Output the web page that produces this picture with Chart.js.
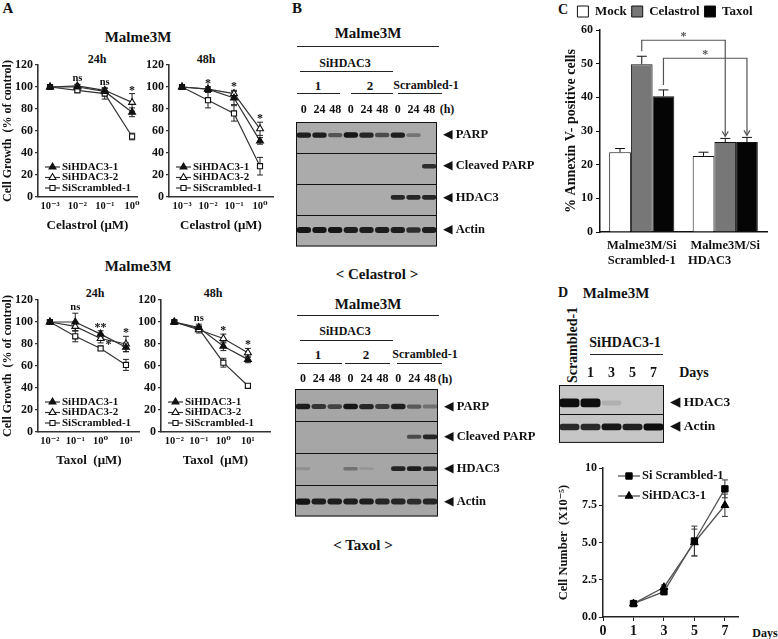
<!DOCTYPE html>
<html lang="en">
<head>
<meta charset="utf-8">
<title>Malme3M / HDAC3</title>
<script src="https://cdn.jsdelivr.net/npm/chart.js@4.4.1/dist/chart.umd.min.js"></script>
<style>
  body { margin: 0; background: #fff; }
  #fig { position: relative; width: 778px; height: 639px; overflow: hidden;
         font-family: "Liberation Serif", serif; font-weight: bold; color: #111; }
  canvas { position: absolute; }
  .t { position: absolute; white-space: nowrap; line-height: 1; transform: translate(-50%, -50%); }
  .l { position: absolute; height: 0; border-top: 1.3px solid #222; }
</style>
</head>
<body>
<div id="fig">
  <!-- A -->
  <div class="t" style="left:8px;top:8px;font-size:15px">A</div>
  <div class="t" style="left:138px;top:37px;font-size:15px">Malme3M</div>
  <div class="t" style="left:97px;top:59px;font-size:12px">24h</div>
  <div class="t" style="left:206px;top:59px;font-size:12px">48h</div>
  <div class="t" style="left:138px;top:266px;font-size:15px">Malme3M</div>
  <div class="t" style="left:95px;top:293px;font-size:12px">24h</div>
  <div class="t" style="left:213px;top:293px;font-size:12px">48h</div>

  <!-- B -->
  <div class="t" style="left:297px;top:8px;font-size:15px">B</div>
  <div class="t" style="left:368px;top:33px;font-size:15px">Malme3M</div>
  <div class="l" style="left:297px;top:46px;width:142px"></div>
  <div class="t" style="left:345px;top:63px;font-size:12px">SiHDAC3</div>
  <div class="l" style="left:300px;top:71px;width:93px"></div>
  <div class="t" style="left:318px;top:85px;font-size:13px">1</div>
  <div class="t" style="left:370px;top:85px;font-size:13px">2</div>
  <div class="t" style="left:426px;top:85px;font-size:12px">Scrambled-1</div>
  <div class="l" style="left:297px;top:93px;width:43px"></div>
  <div class="l" style="left:351px;top:93px;width:42px"></div>
  <div class="l" style="left:398px;top:93px;width:44px"></div>
  <div class="t" style="left:447px;top:109px;font-size:12px">(h)</div>
  <div class="t" style="left:377px;top:274px;font-size:15px">&lt; Celastrol &gt;</div>

  <div class="t" style="left:368px;top:304px;font-size:15px">Malme3M</div>
  <div class="l" style="left:297px;top:315px;width:142px"></div>
  <div class="t" style="left:345px;top:331px;font-size:12px">SiHDAC3</div>
  <div class="l" style="left:300px;top:340px;width:93px"></div>
  <div class="t" style="left:318px;top:354px;font-size:13px">1</div>
  <div class="t" style="left:366px;top:354px;font-size:13px">2</div>
  <div class="t" style="left:425px;top:354px;font-size:12px">Scrambled-1</div>
  <div class="l" style="left:297px;top:363px;width:45px"></div>
  <div class="l" style="left:345px;top:363px;width:45px"></div>
  <div class="l" style="left:397px;top:363px;width:45px"></div>
  <div class="t" style="left:445px;top:379px;font-size:12px">(h)</div>
  <div class="t" style="left:363px;top:545px;font-size:15px">&lt; Taxol &gt;</div>

  <!-- C / D -->
  <div class="t" style="left:563px;top:10px;font-size:14px">C</div>
  <div class="t" style="left:563px;top:293px;font-size:14px">D</div>
  <div class="t" style="left:616px;top:293px;font-size:15px">Malme3M</div>
  <div class="t" style="left:573px;top:345px;font-size:14px;transform:translate(-50%,-50%) rotate(-90deg)">Scrambled-1</div>
  <div class="t" style="left:625px;top:343px;font-size:14px">SiHDAC3-1</div>
  <div class="l" style="left:590px;top:354px;width:73px"></div>
  <div class="t" style="left:694px;top:373px;font-size:14px">Days</div>
  <div class="t" style="left:765px;top:633px;font-size:12px">Days</div>

  <canvas id="a1" width="145" height="187" style="left:0;top:50px"></canvas>
  <canvas id="a2" width="143" height="187" style="left:140px;top:50px"></canvas>
  <canvas id="a3" width="145" height="187" style="left:0;top:285px"></canvas>
  <canvas id="a4" width="150" height="187" style="left:132px;top:285px"></canvas>
  <canvas id="bCel" width="250" height="160" style="left:290px;top:100px"></canvas>
  <canvas id="bTax" width="251" height="163" style="left:289px;top:367px"></canvas>
  <canvas id="cBar" width="215" height="265" style="left:563px;top:0"></canvas>
  <canvas id="dBlot" width="225" height="97" style="left:553px;top:360px"></canvas>
  <canvas id="dLine" width="223" height="184" style="left:555px;top:455px"></canvas>
</div>

<script>
// --- DONNÉES A : croissance cellulaire (% du contrôle) ---
const concCel = [-3, -2, -1, 0];   // log10 µM
const concTax = [-2, -1, 0, 1];
const seriesNames = ['SiHDAC3-1', 'SiHDAC3-2', 'SiScrambled-1'];

const cel24 = [[100, 100, 96, 77], [100, 101, 97, 86], [100, 97, 94, 55]];
const cel24Err = [[1.5, 2, 3, 4], [1, 1.5, 2, 8], [1.5, 2, 5, 3]];
const cel24Sig = ['', 'ns', 'ns', '*'];

const cel48 = [[100, 98, 90, 51], [100, 98, 94, 62], [100, 88, 76, 28]];
const cel48Err = [[1, 2, 6, 3], [1, 2, 3, 6], [1, 7, 7, 8]];
const cel48Sig = ['', '*', '*', '*'];

const tax24 = [[100, 100, 89, 77], [100, 96, 85, 80], [100, 87, 76, 61]];
const tax24Err = [[1, 8, 3, 4], [1, 4, 4, 7], [1, 5, 2, 5]];
const tax24Sig = ['', 'ns', '**', '*'];
const tax24Sig2 = ['', '', '*', ''];

const tax48 = [[100, 95, 78, 66], [100, 93, 85, 72], [100, 94, 63, 42]];
const tax48Err = [[1, 3, 4, 3], [1, 3, 4, 4], [1, 2, 4, 1.5]];
const tax48Sig = ['', 'ns', '*', '*'];

// --- DONNÉES B : western blots (intensité 0..1) ---
const lanesB = ['0', '24', '48', '0', '24', '48', '0', '24', '48'];
const rowsB = ['PARP', 'Cleaved PARP', 'HDAC3', 'Actin'];
const blotCel = [
  [0.9, 0.9, 0.55, 0.95, 0.85, 0.6, 0.9, 0.35, 0],
  [0, 0, 0, 0, 0, 0, 0, 0, 0.8],
  [0, 0, 0, 0, 0, 0, 0.85, 0.85, 0.85],
  [0.95, 0.95, 0.95, 0.9, 0.9, 0.9, 0.9, 0.8, 0.9]
];
const blotTax = [
  [0.9, 0.75, 0.65, 0.95, 0.85, 0.7, 0.9, 0.5, 0.35],
  [0, 0, 0, 0, 0, 0, 0, 0.6, 0.85],
  [0.15, 0, 0, 0.35, 0.1, 0, 0.85, 0.9, 0.8],
  [0.95, 0.9, 0.9, 0.9, 0.9, 0.85, 0.85, 0.8, 0.85]
];

// --- DONNÉES C : Annexin V ---
const cGroups = [['Malme3M/Si', 'Scrambled-1'], ['Malme3M/Si', 'HDAC3          ']];
const cMock = [23.7, 22.6], cMockErr = [1.1, 1.1];
const cCel = [49.8, 26.7], cCelErr = [2.4, 1.1];
const cTax = [40.3, 26.7], cTaxErr = [1.9, 1.4];

// --- DONNÉES D ---
const dLanes = ['Scrambled-1', '1', '3', '5', '7'];
const rowsD = ['HDAC3', 'Actin'];
const blotD = [[1, 1, 0.12, 0, 0], [0.85, 0.85, 0.95, 0.9, 1]];
const dDayTicks = ['0', '1', '3', '5', '7'];
const dDays = ['1', '3', '5', '7'];
const dScr = [0.9, 1.7, 5.1, 8.6], dScrErr = [0.15, 0.2, 1.0, 0.6];
const dHdac = [0.9, 2.0, 5.0, 7.5], dHdacErr = [0.1, 0.15, 0.9, 0.75];

// --- STYLE ---
const SERIF = "'Liberation Serif', 'DejaVu Serif', serif";
Chart.defaults.font.family = SERIF;
Chart.defaults.font.weight = 'bold';
Chart.defaults.color = '#111';
const SUP = { '-': '⁻', '0': '⁰', '1': '¹', '2': '²', '3': '³' };
const sup = v => String(v).split('').map(c => SUP[c]).join('');

// --- PLUGINS ---
const errPlugin = {
  id: 'errbars',
  beforeDatasetsDraw(chart, args, o) {
    const { ctx } = chart;
    const cap = o.cap || 3;
    ctx.save();
    ctx.strokeStyle = o.color || '#222';
    ctx.lineWidth = o.width || 1;
    chart.data.datasets.forEach((ds, i) => {
      if (!ds.errors) return;
      const meta = chart.getDatasetMeta(i);
      const ys = chart.scales[meta.yAxisID];
      meta.data.forEach((el, j) => {
        const e = ds.errors[j];
        if (!e) return;
        const d = ds.data[j];
        const v = typeof d === 'object' ? d.y : d;
        const y1 = ys.getPixelForValue(v + e);
        const y2 = o.upOnly ? el.y : ys.getPixelForValue(v - e);
        ctx.beginPath();
        ctx.moveTo(el.x, y1); ctx.lineTo(el.x, y2);
        ctx.moveTo(el.x - cap, y1); ctx.lineTo(el.x + cap, y1);
        if (!o.upOnly) { ctx.moveTo(el.x - cap, y2); ctx.lineTo(el.x + cap, y2); }
        ctx.stroke();
      });
    });
    ctx.restore();
  }
};

const sigPlugin = {
  id: 'sig',
  afterDatasetsDraw(chart, args, o) {
    if (!o.labels) return;
    const { ctx } = chart;
    const ys = chart.scales.y;
    ctx.save();
    ctx.fillStyle = '#111';
    o.labels.forEach((lab, j) => {
      if (!lab) return;
      let top = Infinity, x = 0;
      chart.data.datasets.forEach((ds, i) => {
        const v = ds.data[j].y + (ds.errors ? ds.errors[j] : 0);
        top = Math.min(top, ys.getPixelForValue(v));
        x = chart.getDatasetMeta(i).data[j].x;
      });
      ctx.textAlign = 'center';
      ctx.textBaseline = 'bottom';
      if (lab === 'ns') { ctx.font = 'bold 10.5px ' + SERIF; ctx.fillText(lab, x, top - 1); }
      else { ctx.font = 'bold 12px ' + SERIF; ctx.fillText(lab, x, top + 3); }
    });
    if (o.extra) {
      const meta = chart.getDatasetMeta(o.extraSet);
      o.extra.forEach((lab, j) => {
        if (!lab) return;
        const el = meta.data[j];
        ctx.font = 'bold 12px ' + SERIF;
        ctx.textAlign = 'left';
        ctx.textBaseline = 'middle';
        ctx.fillText(lab, el.x + 5, el.y + 6);
      });
    }
    ctx.restore();
  }
};

const miniLegend = {
  id: 'miniLegend',
  afterDatasetsDraw(chart, args, o) {
    if (!o.rows) return;
    const { ctx, chartArea: a } = chart;
    ctx.save();
    chart.data.datasets.forEach((ds, i) => {
      const y = o.fromTop ? a.top + o.rows[i] : a.bottom - o.rows[i];
      const x0 = a.left + o.x;
      ctx.strokeStyle = ds.borderColor;
      ctx.lineWidth = ds.borderWidth;
      ctx.beginPath(); ctx.moveTo(x0, y); ctx.lineTo(x0 + o.len, y); ctx.stroke();
      ctx.fillStyle = ds.pointBackgroundColor;
      ctx.strokeStyle = ds.pointBorderColor;
      ctx.lineWidth = ds.pointBorderWidth;
      Chart.helpers.drawPoint(ctx, { pointStyle: ds.pointStyle, radius: ds.pointRadius, rotation: 0, borderWidth: ds.pointBorderWidth }, x0 + o.len / 2, y);
      ctx.fillStyle = '#111';
      ctx.font = o.font;
      ctx.textAlign = 'left';
      ctx.textBaseline = 'middle';
      ctx.fillText(ds.label, x0 + o.len + 2, y);
    });
    ctx.restore();
  }
};

const blotPlugin = {
  id: 'blot',
  beforeDatasetsDraw(chart, args, o) {
    if (!o.bg) return;
    const { ctx, chartArea: a } = chart;
    ctx.save();
    ctx.fillStyle = o.bg;
    ctx.fillRect(a.left, a.top, a.width, a.height);
    ctx.restore();
  },
  afterDatasetsDraw(chart, args, o) {
    if (!o.bg) return;
    const { ctx, chartArea: a } = chart;
    const ys = chart.scales.y;
    ctx.save();
    ctx.strokeStyle = '#111';
    ctx.lineWidth = 1;
    ctx.strokeRect(a.left + 0.5, a.top + 0.5, a.width - 1, a.height - 1);
    for (let r = 1; r < o.rows; r++) {
      const y = Math.round(ys.getPixelForValue(r)) + 0.5;
      ctx.beginPath(); ctx.moveTo(a.left, y); ctx.lineTo(a.right, y); ctx.stroke();
    }
    ctx.restore();
  }
};

const bracketPlugin = {
  id: 'brackets',
  afterDatasetsDraw(chart, args, o) {
    if (!o.pairs) return;
    const { ctx } = chart;
    const ys = chart.scales.y;
    const topOf = (di, j) => {
      const ds = chart.data.datasets[di];
      return ys.getPixelForValue(ds.data[j] + ds.errors[j]);
    };
    let level = Math.min(...chart.data.datasets.map((ds, di) => topOf(di, 0))) - 16;
    ctx.save();
    ctx.strokeStyle = '#555';
    ctx.fillStyle = '#555';
    ctx.lineWidth = 1.2;
    o.pairs.forEach(di => {
      const m = chart.getDatasetMeta(di);
      const x0 = m.data[0].x, x1 = m.data[1].x;
      const y0 = topOf(di, 0) - 5, y1 = topOf(di, 1) - 2;
      ctx.beginPath();
      ctx.moveTo(x0, y0); ctx.lineTo(x0, level); ctx.lineTo(x1, level); ctx.lineTo(x1, y1);
      ctx.stroke();
      ctx.beginPath();
      ctx.moveTo(x1 - 3, y1 - 5); ctx.lineTo(x1, y1); ctx.lineTo(x1 + 3, y1 - 5);
      ctx.stroke();
      ctx.font = 'bold 12px ' + SERIF;
      ctx.textAlign = 'center';
      ctx.textBaseline = 'bottom';
      ctx.fillText('*', (x0 + x1) / 2, level + 3);
      level += 18;
    });
    ctx.restore();
  }
};

const legendBox = {
  id: 'legendBox',
  afterInit(chart, args, o) {
    if (!o.h || !chart.legend) return;
    const fit = chart.legend.fit;
    chart.legend.fit = function () { fit.call(this); this.height = o.h; };
  }
};

Chart.register(errPlugin, sigPlugin, miniLegend, blotPlugin, bracketPlugin, legendBox);

// --- A : courbes dose-réponse ---
function growthChart(id, xs, vals, errs, sig, o) {
  const marks = [
    { style: 'triangle', bg: '#111', r: 4 },
    { style: 'triangle', bg: '#fff', r: 4 },
    { style: 'rect', bg: '#fff', r: 3.6 }
  ];
  new Chart(document.getElementById(id), {
    type: 'line',
    data: {
      datasets: vals.map((v, i) => ({
        label: seriesNames[i],
        data: xs.map((x, j) => ({ x: x, y: v[j] })),
        errors: errs[i],
        borderColor: '#333', borderWidth: 1.2, tension: 0,
        pointStyle: marks[i].style, pointRadius: marks[i].r,
        pointBackgroundColor: marks[i].bg, pointBorderColor: '#111', pointBorderWidth: 1.1
      }))
    },
    options: {
      animation: false, responsive: false, events: [],
      layout: { padding: { top: o.padTop, right: o.padRight, left: 0, bottom: 0 } },
      plugins: {
        legend: { display: false }, tooltip: { enabled: false },
        errbars: { cap: 3, color: '#222', width: 1 },
        sig: { labels: sig, extra: o.extra, extraSet: 1 },
        miniLegend: { rows: [30, 19.5, 9], x: 7, len: 15, font: 'bold 11px ' + SERIF }
      },
      scales: {
        x: {
          type: 'linear', min: o.xMin, max: o.xMax,
          afterBuildTicks: s => { s.ticks = xs.map(v => ({ value: v })); },
          afterFit: s => { s.height = o.xH; },
          ticks: { callback: v => '10' + sup(v), font: { size: 10.5 }, padding: 3, maxRotation: 0, autoSkip: false },
          grid: { display: false, drawTicks: false },
          border: { color: '#333', width: 1.6 },
          title: { display: true, text: o.xTitle, font: { size: 13 }, padding: { top: 4, bottom: 4 } }
        },
        y: {
          min: 0, max: 120,
          afterFit: s => { s.width = o.yW; },
          ticks: { stepSize: 20, font: { size: 12 }, padding: 2 },
          grid: { drawOnChartArea: false, tickLength: 3, color: '#333', lineWidth: 1.2 },
          border: { color: '#333', width: 1.6 },
          title: { display: !!o.yTitle, text: 'Cell Growth  (% of control)', font: { size: 12 }, padding: { top: 1, bottom: 1 } }
        }
      }
    }
  });
}

growthChart('a1', concCel, cel24, cel24Err, cel24Sig,
  { xMin: -3.44, xMax: 0.18, yW: 38, padTop: 15, padRight: 8, xH: 40, xTitle: 'Celastrol (μM)', yTitle: true });
growthChart('a2', concCel, cel48, cel48Err, cel48Sig,
  { xMin: -3.5, xMax: 0.5, yW: 29, padTop: 15, padRight: 10, xH: 40, xTitle: 'Celastrol (μM)' });
growthChart('a3', concTax, tax24, tax24Err, tax24Sig,
  { xMin: -2.47, xMax: 1.55, yW: 38, padTop: 15, padRight: 5, xH: 40, xTitle: 'Taxol  (μM)', yTitle: true, extra: tax24Sig2 });
growthChart('a4', concTax, tax48, tax48Err, tax48Sig,
  { xMin: -2.54, xMax: 1.9, yW: 29, padTop: 15, padRight: 12, xH: 40, xTitle: 'Taxol  (μM)' });

// --- B / D : western blots ---
function blotChart(id, lanes, rows, inten, o) {
  new Chart(document.getElementById(id), {
    type: 'bar',
    data: {
      labels: lanes,
      datasets: rows.map((r, ri) => ({
        label: r,
        data: inten[ri].map(I => [ri + o.pos[ri] - o.h[ri] * (0.5 + 0.5 * I), ri + o.pos[ri] + o.h[ri] * (0.5 + 0.5 * I)]),
        backgroundColor: inten[ri].map(I => 'rgba(14,14,14,' + I + ')'),
        borderWidth: 0, borderRadius: 3, borderSkipped: false, grouped: false,
        barPercentage: o.bw, categoryPercentage: 1
      }))
    },
    options: {
      animation: false, responsive: false, events: [],
      layout: { padding: { left: o.padL, right: 0, top: 0, bottom: o.padB } },
      plugins: { legend: { display: false }, tooltip: { enabled: false }, blot: { bg: o.bg, rows: rows.length } },
      scales: {
        x: {
          position: 'top',
          grid: { display: false, drawTicks: false }, border: { display: false },
          ticks: { font: { size: o.fs }, padding: o.tpad, maxRotation: 0, autoSkip: false,
                   callback: (v, i) => (o.hideFirst && i === 0) ? '' : lanes[i] },
          afterFit: s => { s.height = o.xH; }
        },
        y: {
          position: 'right', min: 0, max: rows.length, reverse: true,
          grid: { display: false, drawTicks: false }, border: { display: false },
          afterBuildTicks: s => { s.ticks = rows.map((_, i) => ({ value: i + o.pos[i] })); },
          ticks: { callback: (v, i) => '◀ ' + rows[i], font: { size: o.ls }, padding: 6 },
          afterFit: s => { s.width = o.yW; }
        }
      }
    }
  });
}

blotChart('bCel', lanesB, rowsB, blotCel,
  { padL: 6, padB: 3, xH: 22, yW: 103, fs: 12, tpad: 5, ls: 12.5, bg: '#ababab', bw: 0.92,
    pos: [0.42, 0.42, 0.42, 0.47], h: [0.09, 0.08, 0.08, 0.1] });
blotChart('bTax', lanesB, rowsB, blotTax,
  { padL: 6, padB: 3, xH: 22, yW: 102, fs: 12, tpad: 3, ls: 12.5, bg: '#a6a6a6', bw: 0.92,
    pos: [0.55, 0.5, 0.5, 0.53], h: [0.09, 0.08, 0.08, 0.1] });
blotChart('dBlot', dLanes, rowsD, blotD,
  { padL: 6, padB: 3, xH: 25, yW: 114, fs: 14, tpad: 3, ls: 13.5, bg: '#c6c6c6', bw: 0.95,
    pos: [0.62, 0.45], h: [0.15, 0.12], hideFirst: true });

// --- C : Annexin V ---
new Chart(document.getElementById('cBar'), {
  type: 'bar',
  data: {
    labels: cGroups,
    datasets: [
      { label: 'Mock', data: cMock, errors: cMockErr, backgroundColor: '#fff' },
      { label: 'Celastrol', data: cCel, errors: cCelErr, backgroundColor: '#777' },
      { label: 'Taxol', data: cTax, errors: cTaxErr, backgroundColor: '#050505' }
    ].map(d => Object.assign(d, { borderColor: '#111', borderWidth: 1, barPercentage: 1, categoryPercentage: 0.78 }))
  },
  options: {
    animation: false, responsive: false, events: [],
    layout: { padding: { top: 0, right: 11, left: 0, bottom: 0 } },
    plugins: {
      legend: { position: 'top', labels: { boxWidth: 11, boxHeight: 11, padding: 5, font: { size: 13 }, color: '#111' } },
      legendBox: { h: 30 },
      tooltip: { enabled: false },
      errbars: { upOnly: true, cap: 5, color: '#111', width: 1 },
      brackets: { pairs: [1, 2] }
    },
    scales: {
      x: {
        grid: { display: false, drawTicks: false },
        border: { color: '#111', width: 1.5 },
        ticks: { font: { size: 12.5 }, padding: 6, maxRotation: 0 },
        afterFit: s => { s.height = 33; }
      },
      y: {
        min: 0, max: 60,
        ticks: { stepSize: 10, font: { size: 12 }, padding: 3 },
        grid: { drawOnChartArea: false, tickLength: 4, color: '#111' },
        border: { color: '#111', width: 1.5 },
        title: { display: true, text: '% Annexin V- positive cells', font: { size: 14 }, padding: { top: 0, bottom: 2 } },
        afterFit: s => { s.width = 37; }
      }
    }
  }
});

// --- D : nombre de cellules ---
new Chart(document.getElementById('dLine'), {
  type: 'line',
  data: {
    datasets: [
      { label: 'Si Scrambled-1', data: dDays.map((d, j) => ({ x: dDayTicks.indexOf(d), y: dScr[j] })), errors: dScrErr,
        pointStyle: 'rect', pointRadius: 4.5 },
      { label: 'SiHDAC3-1', data: dDays.map((d, j) => ({ x: dDayTicks.indexOf(d), y: dHdac[j] })), errors: dHdacErr,
        pointStyle: 'triangle', pointRadius: 4.5 }
    ].map(d => Object.assign(d, { borderColor: '#555', borderWidth: 1.3, tension: 0,
      pointBackgroundColor: '#000', pointBorderColor: '#000', pointBorderWidth: 1 }))
  },
  options: {
    animation: false, responsive: false, events: [],
    layout: { padding: { top: 13, right: 40, left: 0, bottom: 0 } },
    plugins: {
      legend: { display: false }, tooltip: { enabled: false },
      errbars: { cap: 3, color: '#333', width: 1 },
      miniLegend: { rows: [8, 28], fromTop: true, x: 15, len: 22, font: 'bold 12.5px ' + SERIF }
    },
    scales: {
      x: {
        type: 'linear', min: 0, max: 4.43,
        afterBuildTicks: s => { s.ticks = dDayTicks.map((_, i) => ({ value: i })); },
        ticks: { callback: v => dDayTicks[v], font: { size: 14 }, padding: 2, autoSkip: false, maxRotation: 0 },
        grid: { drawOnChartArea: false, tickLength: 4, color: '#222' },
        border: { color: '#222', width: 1.5 },
        afterFit: s => { s.height = 22; }
      },
      y: {
        min: 0, max: 10,
        ticks: { stepSize: 2.5, font: { size: 12 }, padding: 2, callback: v => v === 10 ? '10' : v.toFixed(1) },
        grid: { drawOnChartArea: false, tickLength: 4, color: '#222' },
        border: { color: '#222', width: 1.5 },
        title: { display: true, text: 'Cell Number  (X10⁻⁵)', font: { size: 12.5 }, padding: { top: 1, bottom: 1 } },
        afterFit: s => { s.width = 48; }
      }
    }
  }
});
</script>
</body>
</html>
